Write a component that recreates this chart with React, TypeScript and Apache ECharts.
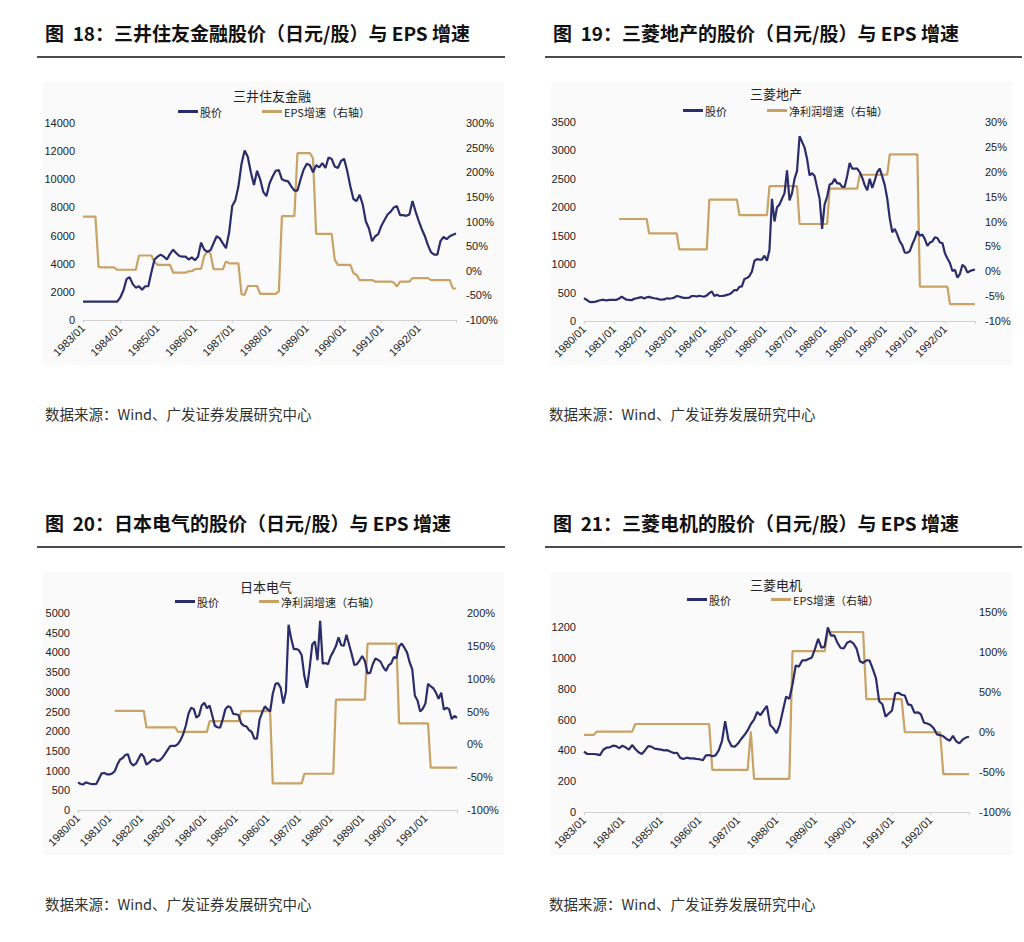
import React, { useEffect, useRef } from "react";
import * as echarts from "echarts";

// ---------- categories ----------
function monthLabels(startYear: number, count: number): string[] {
  const out: string[] = [];
  for (let i = 0; i < count; i++) {
    const y = startYear + Math.floor(i / 12);
    const m = (i % 12) + 1;
    out.push(`${y}/${m < 10 ? "0" + m : m}`);
  }
  return out;
}
const cat1 = monthLabels(1983, 121); // 1983/01 - 1993/01
const cat2 = monthLabels(1980, 157); // 1980/01 - 1993/01
const cat3 = monthLabels(1980, 145); // 1980/01 - 1992/01
const cat4 = monthLabels(1983, 121); // 1983/01 - 1993/01

// ---------- 图18 三井住友金融 ----------
const smfgPrice = [
  1300, 1300, 1300, 1300, 1300, 1300, 1300, 1300, 1300, 1300, 1300, 1300,
  1600, 2100, 2900, 3050, 2550, 2300, 2400, 2150, 2400, 2400, 3400, 4300,
  4500, 4650, 4500, 4300, 4700, 5000, 4750, 4550, 4500, 4500, 4300, 4450,
  4250, 4500, 5500, 5000, 4850, 4950, 5450, 5950, 5800, 5450, 5100, 6200,
  8100, 8500, 9500, 11100, 12050, 11600, 10500, 9600, 10600, 10000, 9100, 8800,
  9700, 10200, 10600, 10650, 10000, 9900, 9850, 9500, 9200, 9200, 10000, 10700,
  11100, 11000, 10500, 11000, 10850, 11150, 10800, 11550, 11450, 10900, 10800, 11300,
  11450, 10600, 9500, 8600, 8450, 8900, 8200, 7000, 6500, 5600, 5950, 6100,
  6700, 7100, 7500, 7700, 8000, 8100, 7450, 7450, 7400, 7500, 8450, 7700,
  7050, 6450, 5950, 5300, 4800, 4650, 4650, 5600, 5900, 5750, 5950, 6050,
  6150,
];
const smfgEps = [
  110, 110, 110, 110, 110, 8, 7, 7, 7, 7, 7, 2,
  2, 2, 2, 2, 2, 2, 31, 31, 31, 31, 31, 18,
  12, 12, 12, 12, 12, -4, -4, -4, -4, -4, -1, -1,
  3, 4, 4, 30, 40, 35, 3, 3, 3, 3, 19, 15,
  15, 15, 15, -48, -49, -31, -31, -31, -31, -47, -47, -47,
  -47, -47, -47, -42, 111, 111, 111, 111, 111, 239, 239, 239,
  239, 239, 228, 75, 75, 75, 75, 75, 75, 22, 12, 12,
  12, 12, 12, -5, -8, -19, -19, -19, -19, -19, -22, -22,
  -22, -22, -22, -22, -24, -32, -22, -22, -22, -22, -15, -15,
  -15, -15, -15, -15, -19, -19, -19, -19, -19, -19, -19, -36,
  -36,
];

// ---------- 图19 三菱地产 ----------
const meiPrice = [
  403, 374, 340, 333, 335, 345, 360, 370, 370, 362,
  370, 372, 372, 372, 395, 430, 400, 375, 372, 365,
  390, 400, 410, 420, 395, 418, 425, 410, 400, 395,
  380, 375, 380, 400, 395, 400, 410, 440, 430, 415,
  405, 405, 412, 440, 440, 430, 445, 435, 430, 450,
  490, 520, 440, 460, 440, 440, 445, 460, 470, 500,
  545, 540, 600, 610, 740, 755, 790, 870, 1060, 1087,
  1080, 1080, 1150, 1060, 1250, 2150, 1750, 2000, 2050, 2150,
  2250, 2650, 2120, 2250, 2500, 2640, 3250, 3150, 3050, 2850,
  2560, 2600, 2550, 2350, 2150, 1620, 2050, 2185, 2400, 2420,
  2500, 2420, 2420, 2360, 2360, 2550, 2780, 2680, 2680, 2680,
  2620, 2520, 2390, 2300, 2500, 2340, 2470, 2620, 2680, 2540,
  2390, 2150, 1800, 1560, 1620, 1520, 1400, 1330, 1200, 1200,
  1230, 1350, 1450, 1580, 1500, 1520, 1440, 1320, 1380, 1400,
  1470, 1460, 1380, 1370, 1190, 1100, 1020, 880, 900, 760,
  830, 990, 950, 850, 880, 895, 905,
];
const meiProfit = [
  null, null, null, null, null, null, null, null, null, null, null, null, null, null,
  10.5, 10.5, 10.5, 10.5, 10.5, 10.5, 10.5, 10.5, 10.5, 10.5, 10.5, 10.5,
  7.6, 7.6, 7.6, 7.6, 7.6, 7.6, 7.6, 7.6, 7.6, 7.6, 7.6, 7.6,
  4.4, 4.4, 4.4, 4.4, 4.4, 4.4, 4.4, 4.4, 4.4, 4.4, 4.4, 4.4,
  14.4, 14.4, 14.4, 14.4, 14.4, 14.4, 14.4, 14.4, 14.4, 14.4, 14.4, 14.4,
  11.3, 11.3, 11.3, 11.3, 11.3, 11.3, 11.3, 11.3, 11.3, 11.3, 11.3, 11.3,
  17.1, 17.1, 17.1, 17.1, 17.1, 17.1, 17.1, 17.1, 17.1, 17.1, 17.1, 17.1,
  9.5, 9.5, 9.5, 9.5, 9.5, 9.5, 9.5, 9.5, 9.5, 9.5, 9.5, 9.5,
  16.6, 16.6, 16.6, 16.6, 16.6, 16.6, 16.6, 16.6, 16.6, 16.6, 16.6, 16.6,
  19.4, 19.4, 19.4, 19.4, 19.4, 19.4, 19.4, 19.4, 19.4, 19.4, 19.4, 19.4,
  23.5, 23.5, 23.5, 23.5, 23.5, 23.5, 23.5, 23.5, 23.5, 23.5, 23.5, 23.5,
  -3.1, -3.1, -3.1, -3.1, -3.1, -3.1, -3.1, -3.1, -3.1, -3.1, -3.1, -3.1,
  -6.6, -6.6, -6.6, -6.6, -6.6, -6.6, -6.6, -6.6, -6.6, -6.6, -6.6,
];

// ---------- 图20 日本电气 ----------
const necPrice = [
  700, 660, 650, 700, 680, 660, 655, 665, 800, 930,
  940, 905, 905, 925, 990, 1160, 1280, 1320, 1400, 1410,
  1200, 1130, 1175, 1300, 1430, 1350, 1150, 1200, 1270, 1290,
  1240, 1260, 1320, 1420, 1520, 1620, 1630, 1630, 1680, 1780,
  1930, 2150, 2450, 2593, 2560, 2340, 2400, 2650, 2720, 2580,
  2650, 2400, 2140, 2100, 2090, 2300, 2560, 2635, 2600, 2440,
  2430, 2410, 2200, 2140, 2120, 2027, 1980, 1810, 1810, 2300,
  2480, 2630, 2560, 2500, 2950, 3200, 3220, 3100, 2700, 3000,
  4700, 4350, 4079, 4090, 4050, 3927, 3400, 3100, 3600, 4200,
  4280, 3800, 4800, 3716, 3730, 3700, 3900, 4020, 4160, 4380,
  4181, 4170, 4450, 4200, 3950, 3680, 3700, 3800, 3910, 3780,
  3463, 3480, 3700, 3843, 3810, 3760, 3620, 3530, 3670, 3720,
  3880, 3860, 4150, 4223, 4120, 4000, 3750, 3570, 2900, 2780,
  2500, 2570, 2703, 3200, 3140, 3090, 2980, 2820, 2980, 2550,
  2593, 2560, 2306, 2390, 2340,
];
const necProfit = [
  null, null, null, null, null, null, null, null, null, null, null, null, null, null,
  51, 51, 51, 51, 51, 51, 51, 51, 51, 51, 51, 51,
  25.7, 25.7, 25.7, 25.7, 25.7, 25.7, 25.7, 25.7, 25.7, 25.7, 25.7, 25.7,
  19, 19, 19, 19, 19, 19, 19, 19, 19, 19, 19, 19,
  35.3, 35.3, 35.3, 35.3, 35.3, 35.3, 35.3, 35.3, 35.3, 35.3, 35.3, 35.3,
  50.5, 50.5, 50.5, 50.5, 50.5, 50.5, 50.5, 50.5, 50.5, 50.5, 50.5, 50.5,
  -59.5, -59.5, -59.5, -59.5, -59.5, -59.5, -59.5, -59.5, -59.5, -59.5, -59.5, -59.5,
  -44.8, -44.8, -44.8, -44.8, -44.8, -44.8, -44.8, -44.8, -44.8, -44.8, -44.8, -44.8,
  68.2, 68.2, 68.2, 68.2, 68.2, 68.2, 68.2, 68.2, 68.2, 68.2, 68.2, 68.2,
  153.4, 153.4, 153.4, 153.4, 153.4, 153.4, 153.4, 153.4, 153.4, 153.4, 153.4, 153.4,
  31.8, 31.8, 31.8, 31.8, 31.8, 31.8, 31.8, 31.8, 31.8, 31.8, 31.8, 31.8,
  -35.6, -35.6, -35.6, -35.6, -35.6, -35.6, -35.6, -35.6, -35.6, -35.6, -35.6,
];

// ---------- 图21 三菱电机 ----------
const melcoPrice = [
  392, 377, 377, 377, 375, 370, 405, 418, 420, 431,
  428, 415, 431, 420, 405, 435, 410, 388, 377, 400,
  428, 425, 412, 409, 405, 401, 402, 392, 383, 385,
  352, 345, 353, 349, 349, 345, 343, 336, 368, 370,
  362, 368, 400, 460, 590, 470, 428, 424, 445, 475,
  500, 530, 572, 600, 650, 629, 660, 690, 566, 545,
  512, 565, 660, 750, 735, 830, 952, 945, 985, 985,
  995, 1004, 1060, 1125, 1068, 1075, 1200, 1146, 1148, 1100,
  1066, 1064, 1100, 1110, 1095, 1060, 980, 969, 985, 986,
  930, 870, 720, 700, 620, 640, 660, 770, 775, 762,
  757, 700, 695, 645, 648, 635, 580, 575, 566, 545,
  505, 500, 492, 475, 463, 495, 460, 446, 470, 484,
  489,
];
const melcoEps = [
  -3.65, -3.65, -3.65, -3.65,
  0.5, 0.5, 0.5, 0.5, 0.5, 0.5, 0.5, 0.5, 0.5, 0.5, 0.5, 0.5,
  10, 10, 10, 10, 10, 10, 10, 10, 10, 10, 10, 10,
  10, 10, 10, 10, 10, 10, 10, 10, 10, 10, 10, 10,
  -47.3, -47.3, -47.3, -47.3, -47.3, -47.3, -47.3, -47.3, -47.3, -47.3, -47.3, -47.3,
  0.5,
  -58.5, -58.5, -58.5, -58.5, -58.5, -58.5, -58.5, -58.5, -58.5, -58.5, -58.5, -58.5,
  101, 101, 101, 101, 101, 101, 101, 101, 101, 101, 101,
  125, 125, 125, 125, 125, 125, 125, 125, 125, 125, 125, 125,
  41.2, 41.2, 41.2, 41.2, 41.2, 41.2, 41.2, 41.2, 41.2, 41.2, 41.2, 41.2,
  -0.3, -0.3, -0.3, -0.3, -0.3, -0.3, -0.3, -0.3, -0.3, -0.3, -0.3, -0.3,
  -52.7, -52.7, -52.7, -52.7, -52.7, -52.7, -52.7, -52.7, -52.7,
];

// ---------- texts ----------
const headings = [
  "图  18：三井住友金融股价（日元/股）与 EPS 增速",
  "图  19：三菱地产的股价（日元/股）与 EPS 增速",
  "图  20：日本电气的股价（日元/股）与 EPS 增速",
  "图  21：三菱电机的股价（日元/股）与 EPS 增速",
];
const chartTitles = ["三井住友金融", "三菱地产", "日本电气", "三菱电机"];
const priceName = "股价";
const epsName = "EPS增速（右轴）";
const profitName = "净利润增速（右轴）";
const sourceText = "数据来源：Wind、广发证券发展研究中心";

const NAVY = "#2a2d69";
const TAN = "#c9a266";
const FONT = "'Liberation Sans', 'Noto Sans CJK SC', sans-serif";
const CJK = "'Noto Sans CJK SC', 'Liberation Sans', sans-serif";

export default function App() {
  const ref = useRef<HTMLDivElement>(null);
  useEffect(() => {
    if (!ref.current) return;
    const chart = echarts.init(ref.current, undefined, { renderer: "svg" });

    const grids = [
      { left: 83, top: 123, width: 373, height: 197 },
      { left: 584, top: 122, width: 391, height: 199 },
      { left: 78, top: 613, width: 379, height: 197 },
      { left: 584, top: 612, width: 385, height: 200 },
    ];
    const cats = [cat1, cat2, cat3, cat4];
    const leftAx = [
      { max: 14000, interval: 2000 },
      { max: 3500, interval: 500 },
      { max: 5000, interval: 500 },
      { max: 1300, interval: 200, hideAbove: 1200 },
    ];
    const rightAx = [
      { min: -100, max: 300, interval: 50 },
      { min: -10, max: 30, interval: 5 },
      { min: -100, max: 200, interval: 50 },
      { min: -100, max: 150, interval: 50 },
    ];

    const xAxis = cats.map((c, i) => ({
      type: "category",
      gridIndex: i,
      data: c,
      boundaryGap: false,
      axisLine: { lineStyle: { color: "#d0d0d0", width: 1 } },
      axisTick: {
        show: true,
        length: 3,
        lineStyle: { color: "#d0d0d0" },
        interval: (idx: number) => idx % 12 === 0,
      },
      axisLabel: {
        interval: (idx: number) => idx % 12 === 0 && idx < c.length - 1,
        rotate: 45,
        fontSize: 11,
        color: "#222",
        fontFamily: FONT,
        margin: 6,
      },
      splitLine: { show: false },
    }));

    const yAxis: any[] = [];
    leftAx.forEach((a, i) => {
      yAxis.push({
        type: "value",
        gridIndex: i,
        min: 0,
        max: a.max,
        interval: a.interval,
        axisLine: { show: false },
        axisTick: { show: false },
        splitLine: { show: false },
        axisLabel: {
          fontSize: 11,
          color: "#222",
          fontFamily: FONT,
          margin: 8,
          formatter: (v: number) => (a.hideAbove !== undefined && v > a.hideAbove ? "" : String(v)),
        },
      });
    });
    rightAx.forEach((a, i) => {
      yAxis.push({
        type: "value",
        gridIndex: i,
        position: "right",
        min: a.min,
        max: a.max,
        interval: a.interval,
        axisLine: { show: false },
        axisTick: { show: false },
        splitLine: { show: false },
        axisLabel: {
          fontSize: 11,
          color: "#222",
          fontFamily: FONT,
          margin: 10,
          formatter: "{value}%",
        },
      });
    });

    const priceData = [smfgPrice, meiPrice, necPrice, melcoPrice];
    const growthData = [smfgEps, meiProfit, necProfit, melcoEps];
    const growthNames = [epsName, profitName, profitName, epsName];

    const series: any[] = [];
    for (let i = 0; i < 4; i++) {
      series.push({
        type: "line",
        name: growthNames[i],
        xAxisIndex: i,
        yAxisIndex: 4 + i,
        data: growthData[i],
        symbol: "none",
        lineStyle: { color: TAN, width: 2.2 },
        itemStyle: { color: TAN },
        z: 2,
      });
      series.push({
        type: "line",
        name: priceName,
        xAxisIndex: i,
        yAxisIndex: i,
        data: priceData[i],
        symbol: "none",
        lineStyle: { color: NAVY, width: 2.2 },
        itemStyle: { color: NAVY },
        z: 3,
      });
    }

    const titlePos = [
      { x: 272, y: 89 },
      { x: 776, y: 87 },
      { x: 266, y: 580 },
      { x: 776, y: 578 },
    ];
    const title = chartTitles.map((t, i) => ({
      text: t,
      left: titlePos[i].x,
      top: titlePos[i].y,
      textAlign: "center",
      padding: 0,
      textStyle: { fontSize: 13, fontWeight: "normal", color: "#222", fontFamily: CJK },
    }));

    const legendPos = [
      { x: 178, y: 106 },
      { x: 683, y: 105 },
      { x: 175, y: 596 },
      { x: 687, y: 594 },
    ];
    const legend = legendPos.map((p, i) => ({
      left: p.x,
      top: p.y,
      padding: 0,
      itemWidth: 20,
      itemHeight: 3,
      itemGap: 40,
      icon: "rect",
      data: [priceName, growthNames[i]],
      selectedMode: false,
      textStyle: { fontSize: 11, color: "#222", fontFamily: CJK, padding: [0, 0, 0, -3] },
    }));

    const panelX = [0, 508, 0, 508];
    const panelY = [0, 0, 490, 490];
    const graphic: any[] = [];
    for (let i = 0; i < 4; i++) {
      const ox = panelX[i];
      const oy = panelY[i];
      graphic.push({
        type: "rect",
        z: -10,
        shape: { x: 43 + ox, y: 82 + oy, width: 461, height: 283 },
        style: { fill: "#fafafa" },
        silent: true,
      });
      graphic.push({
        type: "text",
        x: 45 + ox,
        y: 32 + oy,
        style: {
          text: headings[i],
          fontSize: 19,
          fontWeight: "bold",
          fill: "#111",
          fontFamily: CJK,
          textVerticalAlign: "middle",
        },
      });
      graphic.push({
        type: "line",
        shape: { x1: 37 + ox, y1: 57 + oy, x2: 505 + ox + (i % 2 === 1 ? 9 : 0), y2: 57 + oy },
        style: { stroke: "#111", lineWidth: 1.5 },
      });
      graphic.push({
        type: "text",
        x: 45 + ox + (i % 2 === 1 ? -4 : 0),
        y: 413 + oy,
        style: {
          text: sourceText,
          fontSize: 14.5,
          fill: "#333",
          fontFamily: CJK,
          textVerticalAlign: "middle",
        },
      });
    }

    chart.setOption({
      animation: false,
      backgroundColor: "#ffffff",
      title,
      legend,
      grid: grids,
      xAxis,
      yAxis,
      series,
      graphic,
    });
    return () => chart.dispose();
  }, []);

  return (
    <div
      ref={ref}
      style={{ position: "absolute", left: 0, top: 0, width: 1024, height: 942 }}
    />
  );
}
